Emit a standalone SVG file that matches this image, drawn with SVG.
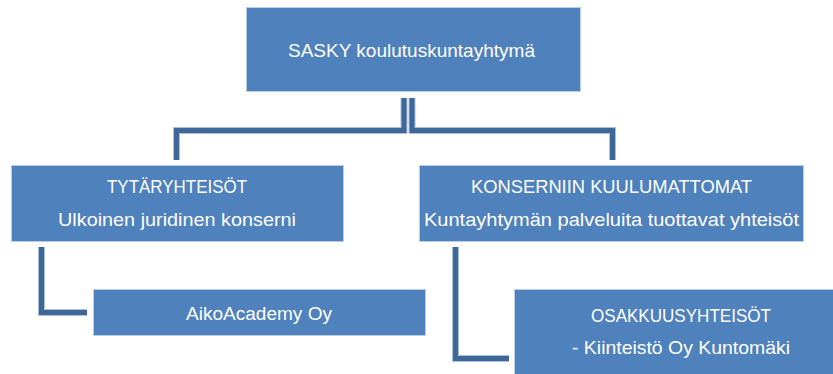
<svg xmlns="http://www.w3.org/2000/svg" width="833" height="374" viewBox="0 0 833 374">
<style>
.box{fill:#4f81bd;stroke:#b9cde5;stroke-width:1}
.t{font-family:"Liberation Sans",Arial,sans-serif;font-size:19px;fill:#ffffff;text-anchor:middle}
.c{fill:none;stroke-linejoin:miter;stroke-linecap:butt}
.co{stroke:#a9c1df;stroke-width:7}
.ci{stroke:#3f6899;stroke-width:5}
</style>
<rect width="833" height="374" fill="#ffffff"/>
<g id="connectors">
<g class="c co">
<path d="M404,98 V130.5 H176.5 V160"/>
<path d="M412,98 V130.5 H612.5 V160"/>
<path d="M41.5,247 V312.5 H87"/>
<path d="M455.5,247 V358.5 H509"/>
</g>
<g class="c ci">
<path d="M404,98 V130.5 H176.5 V160"/>
<path d="M412,98 V130.5 H612.5 V160"/>
<path d="M41.5,247 V312.5 H87"/>
<path d="M455.5,247 V358.5 H509"/>
</g>
</g>
<g id="sasky">
<rect class="box" x="246.5" y="7.5" width="334" height="84"/>
<text class="t" x="411.5" y="57" textLength="247" lengthAdjust="spacingAndGlyphs">SASKY koulutuskuntayhtymä</text>
</g>
<g id="tytaryhteisot">
<rect class="box" x="11.5" y="165.5" width="332" height="76"/>
<text class="t" x="177" y="193" textLength="140" lengthAdjust="spacingAndGlyphs">TYTÄRYHTEISÖT</text>
<text class="t" x="177" y="226" textLength="238" lengthAdjust="spacingAndGlyphs">Ulkoinen juridinen konserni</text>
</g>
<g id="konserniin">
<rect class="box" x="419.5" y="165.5" width="384" height="76"/>
<text class="t" x="611.5" y="193" textLength="281" lengthAdjust="spacingAndGlyphs">KONSERNIIN KUULUMATTOMAT</text>
<text class="t" x="611.5" y="226" textLength="375" lengthAdjust="spacingAndGlyphs">Kuntayhtymän palveluita tuottavat yhteisöt</text>
</g>
<g id="aikoacademy">
<rect class="box" x="93.5" y="289.5" width="332" height="46"/>
<text class="t" x="259" y="320" textLength="146" lengthAdjust="spacingAndGlyphs">AikoAcademy Oy</text>
</g>
<g id="osakkuusyhteisot">
<rect class="box" x="514.5" y="289.5" width="330" height="96"/>
<text class="t" x="681" y="322" textLength="180" lengthAdjust="spacingAndGlyphs">OSAKKUUSYHTEISÖT</text>
<text class="t" x="681" y="354" textLength="218" lengthAdjust="spacingAndGlyphs">- Kiinteistö Oy Kuntomäki</text>
</g>
</svg>
